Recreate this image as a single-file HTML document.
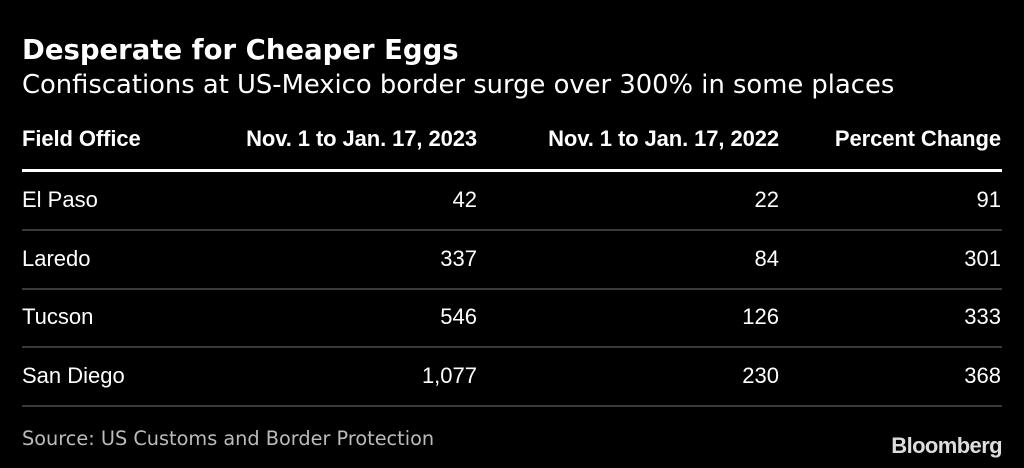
<!DOCTYPE html>
<html><head><meta charset="utf-8"><style>
body{margin:0;background:#000;width:1024px;height:468px;overflow:hidden;position:relative;color:#fff;font-family:"Liberation Sans",sans-serif}
.a{position:absolute;white-space:nowrap}
.line{position:absolute;left:22px;width:980px}
</style></head><body>
<div class="a" style="left:22px;top:34px;font:bold 27.5px 'DejaVu Sans',sans-serif">Desperate for Cheaper Eggs</div>
<div class="a" style="left:22px;top:70px;font:25.8px 'DejaVu Sans',sans-serif">Confiscations at US-Mexico border surge over 300% in some places</div>
<div id="tbl"></div>
<div class="a" style="left:22px;top:427px;font:19.3px 'DejaVu Sans',sans-serif;color:#bbb">Source: US Customs and Border Protection</div>
<div class="a" style="right:22px;top:433px;font:bold 22px 'Liberation Sans',sans-serif;color:#ddd;letter-spacing:-0.6px">Bloomberg</div>
<script>
const headers=["Field Office","Nov. 1 to Jan. 17, 2023","Nov. 1 to Jan. 17, 2022","Percent Change"];
const offices=["El Paso","Laredo","Tucson","San Diego"];
const values2023=["42","337","546","1,077"];
const values2022=["22","84","126","230"];
const pctChange=["91","301","333","368"];
const t=document.getElementById('tbl');
const rights=[null,477,779,1001];
function cell(txt,col,top,bold,name){
  const d=document.createElement('div');
  
  
  d.className='a';
  d.textContent=txt;
  d.style.top=top+'px';
  d.style.fontSize=bold?'22px':'22px';
  if(bold){d.style.fontWeight='bold';d.style.letterSpacing='-0.1px';}
  if(col===0)d.style.left='22px';else d.style.right=(1024-rights[col])+'px';
  t.appendChild(d);
}
headers.forEach((h,i)=>cell(h,i,126,true,'column-header'));
const hl=document.createElement('div');


hl.className='line';hl.style.top='169px';hl.style.height='3px';hl.style.background='#fff';
t.appendChild(hl);
const rowH=58.5;
offices.forEach((o,i)=>{
  const top=187+i*rowH;
  cell(o,0,top,false,'office-name');
  cell(values2023[i],1,top,false,'value-2023');
  cell(values2022[i],2,top,false,'value-2022');
  cell(pctChange[i],3,top,false,'percent-change');
  const l=document.createElement('div');
  
  
  l.className='line';l.style.top=Math.round(229+i*rowH)+'px';l.style.height='2px';l.style.background='#3a3a3a';
  t.appendChild(l);
});
</script>
</body></html>
